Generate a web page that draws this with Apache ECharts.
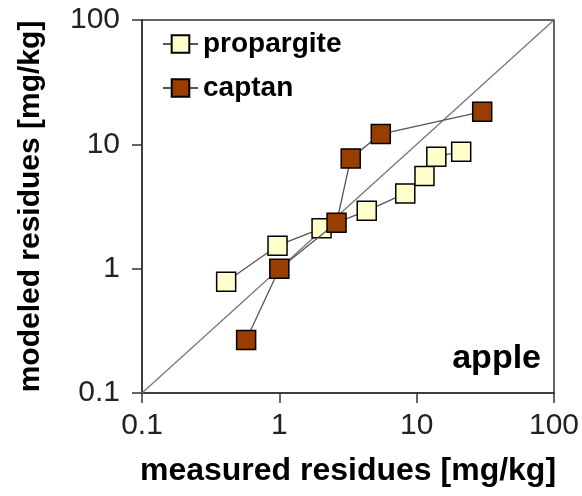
<!DOCTYPE html>
<html>
<head>
<meta charset="utf-8">
<script src="https://cdn.jsdelivr.net/npm/echarts@6/dist/echarts.min.js"></script>
<style>
  html, body { margin: 0; padding: 0; background: #fff; }
  #chart { width: 582px; height: 496px; }
</style>
</head>
<body>
<div id="chart"></div>
<script>
// measured vs modeled residues (mg/kg)
var propargiteMeasured = [0.41, 0.97, 2.03, 4.33, 8.26, 11.4, 13.9, 21.1];
var propargiteModeled = [0.785, 1.53, 2.11, 2.92, 4.03, 5.56, 7.95, 8.73];
var captanMeasured = [0.573, 1.0, 2.61, 3.31, 5.48, 30.0];
var captanModeled = [0.267, 1.0, 2.34, 7.71, 12.1, 18.3];
var oneToOne = [0.1, 100];

function pairs(xs, ys) {
  return xs.map(function (x, i) { return [x, ys[i]]; });
}

var font = "'Liberation Sans', Arial, sans-serif";
var chart = echarts.init(document.getElementById("chart"));

chart.setOption({
  animation: false,
  grid: {
    left: 142, right: 28, top: 20, bottom: 103,
    show: true, borderColor: "#333", borderWidth: 1.5,
    outerBoundsMode: "none"
  },
  legend: {
    left: 157, top: 25,
    orient: "vertical",
    itemWidth: 35, itemHeight: 22, itemGap: 16,
    data: ["propargite", "captan"],
    textStyle: { fontFamily: font, fontWeight: "bold", fontSize: 28, lineHeight: 28, color: "#000" }
  },
  graphic: [{
    type: "text",
    right: 41, top: 342,
    style: { text: "apple", font: "bold 34px " + font, fill: "#000" }
  }],
  xAxis: {
    type: "log", logBase: 10, min: 0.1, max: 100,
    name: "measured residues [mg/kg]",
    nameLocation: "middle", nameGap: 62,
    nameTextStyle: { fontFamily: font, fontWeight: "bold", fontSize: 32, color: "#000" },
    axisLine: { lineStyle: { color: "#333", width: 1.5 } },
    axisTick: { length: 10, lineStyle: { color: "#333", width: 1.5 } },
    axisLabel: { margin: 18, fontFamily: font, fontSize: 30, color: "#222" },
    splitLine: { show: false },
    minorTick: { show: false }
  },
  yAxis: {
    type: "log", logBase: 10, min: 0.1, max: 100,
    name: "modeled residues [mg/kg]",
    nameLocation: "middle", nameGap: 96,
    nameTextStyle: { fontFamily: font, fontWeight: "bold", fontSize: 30, color: "#000" },
    axisLine: { lineStyle: { color: "#333", width: 1.5 } },
    axisTick: { length: 10, lineStyle: { color: "#333", width: 1.5 } },
    axisLabel: { margin: 22, fontFamily: font, fontSize: 30, color: "#222" },
    splitLine: { show: false },
    minorTick: { show: false }
  },
  series: [
    {
      name: "1:1",
      type: "line",
      data: pairs(oneToOne, oneToOne),
      symbol: "none",
      lineStyle: { color: "#777", width: 1.3 },
      silent: true,
      z: 1
    },
    {
      name: "propargite",
      type: "line",
      data: pairs(propargiteMeasured, propargiteModeled),
      symbol: "rect", symbolSize: 19,
      itemStyle: { color: "#FFFFCC", borderColor: "#000", borderWidth: 1.5 },
      lineStyle: { color: "#555", width: 1.3 },
      z: 2
    },
    {
      name: "captan",
      type: "line",
      data: pairs(captanMeasured, captanModeled),
      symbol: "rect", symbolSize: 19,
      itemStyle: { color: "#993E00", borderColor: "#000", borderWidth: 1.5 },
      lineStyle: { color: "#555", width: 1.3 },
      z: 3
    }
  ]
});
</script>
</body>
</html>
